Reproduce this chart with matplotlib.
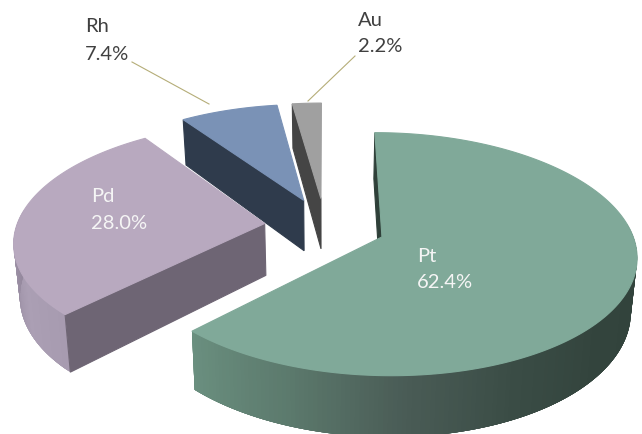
import numpy as np
import matplotlib
matplotlib.use('Agg')
import matplotlib.pyplot as plt
from matplotlib.colors import to_rgb

plt.rcParams['font.family'] = ['Lato', 'DejaVu Sans']

# draw order is back to front
metals = ['Au', 'Rh', 'Pd', 'Pt']
shares = [2.2, 7.4, 28.0, 62.4]
top_colors = ['#a0a0a0', '#7a92b6', '#b8a9bf', '#80a999']
wall_colors = ['#454545', '#2f3b4c', '#6e6574', '#2f4039']
arc_colors = {'Pd': ['#a79bb0', '#ab9fb4', '#9c90a5', '#8f8398'],
              'Pt': ['#2f4038', '#32433c', '#33443d', '#3a4c45', '#4a5c56', '#5c7a6d', '#6a8f7f']}

# slices run clockwise from 12 o'clock: Pt, Pd, Rh, Au
ends = 100 - np.cumsum(np.r_[0, shares[:-1]])
starts = ends - np.array(shares)

# fake 3D camera
U0, V0 = 325, 227
A, B, P = 248, 116, 0.14
EXPLODE = 0.245
DEPTH = 52
SHRINK = 0.98


def project(X, Y, down=False):
    w = 1 + P * Y
    u = U0 + A * X / w
    v = V0 - B * Y / w
    if down:
        u = U0 + (u - U0) * SHRINK
        v = v + DEPTH / w
    return u, v


def blend(cols, t):
    pos = np.linspace(0, 1, len(cols))
    rgb = np.array([to_rgb(c) for c in cols])
    return [np.interp(t, pos, rgb[:, i]) for i in range(3)]


fig = plt.figure(figsize=(6.42, 4.35), dpi=100)
ax = fig.add_axes([0, 0, 1, 1])
ax.set_xlim(0, 642)
ax.set_ylim(435, 0)
ax.axis('off')

for name, share, start, top_c, wall_c in zip(metals, shares, starts, top_colors, wall_colors):
    a0 = np.radians(start * 3.6)
    a1 = np.radians((start + share) * 3.6)
    mid = (a0 + a1) / 2
    cx = EXPLODE * np.sin(mid)
    cy = EXPLODE * np.cos(mid)
    th = np.linspace(a0, a1, 240)
    xs = cx + np.sin(th)
    ys = cy + np.cos(th)

    # outer rim, only the part facing the viewer
    if name in arc_colors:
        vis = np.where(np.cos(th) < 0.12)[0]
        for n in range(len(vis) - 1):
            seg = vis[n:n + 6]   # overlap the next few steps so no seams show
            ua, va = project(xs[seg], ys[seg])
            ub, vb = project(xs[seg], ys[seg], True)
            col = blend(arc_colors[name], n / max(len(vis) - 2, 1))
            ax.fill(np.r_[ua, ub[::-1]], np.r_[va, vb[::-1]], color=col, lw=0)

    # straight cut face
    ex, ey = cx + np.sin(a0), cy + np.cos(a0)
    u1, v1 = project(cx, cy)
    u2, v2 = project(ex, ey)
    u3, v3 = project(ex, ey, True)
    u4, v4 = project(cx, cy, True)
    ax.fill([u1, u2, u3, u4], [v1, v2, v3, v4], color=wall_c, lw=0.8)

    tu, tv = project(np.r_[cx, xs], np.r_[cy, ys])
    ax.fill(tu, tv, color=top_c, lw=0.8)

# leader lines
ax.plot([132, 209], [63, 105], color='#b5ad78', lw=0.8)
ax.plot([355, 308], [57, 102], color='#b5ad78', lw=0.8)

# labels
ax.text(85, 27, 'Rh', fontsize=14.5, color='#404040', va='center')
ax.text(85, 54, '7.4%', fontsize=14.5, color='#404040', va='center')
ax.text(358, 20, 'Au', fontsize=14.5, color='#404040', va='center')
ax.text(358, 47, '2.2%', fontsize=14.5, color='#404040', va='center')
ax.text(91, 197, 'Pd', fontsize=14.5, color='#f5f5f5', va='center')
ax.text(91, 224, '28.0%', fontsize=14.5, color='#f5f5f5', va='center')
ax.text(417, 257, 'Pt', fontsize=14.5, color='#f5f5f5', va='center')
ax.text(417, 283, '62.4%', fontsize=14.5, color='#f5f5f5', va='center')

fig.savefig('out.png', dpi=100)
